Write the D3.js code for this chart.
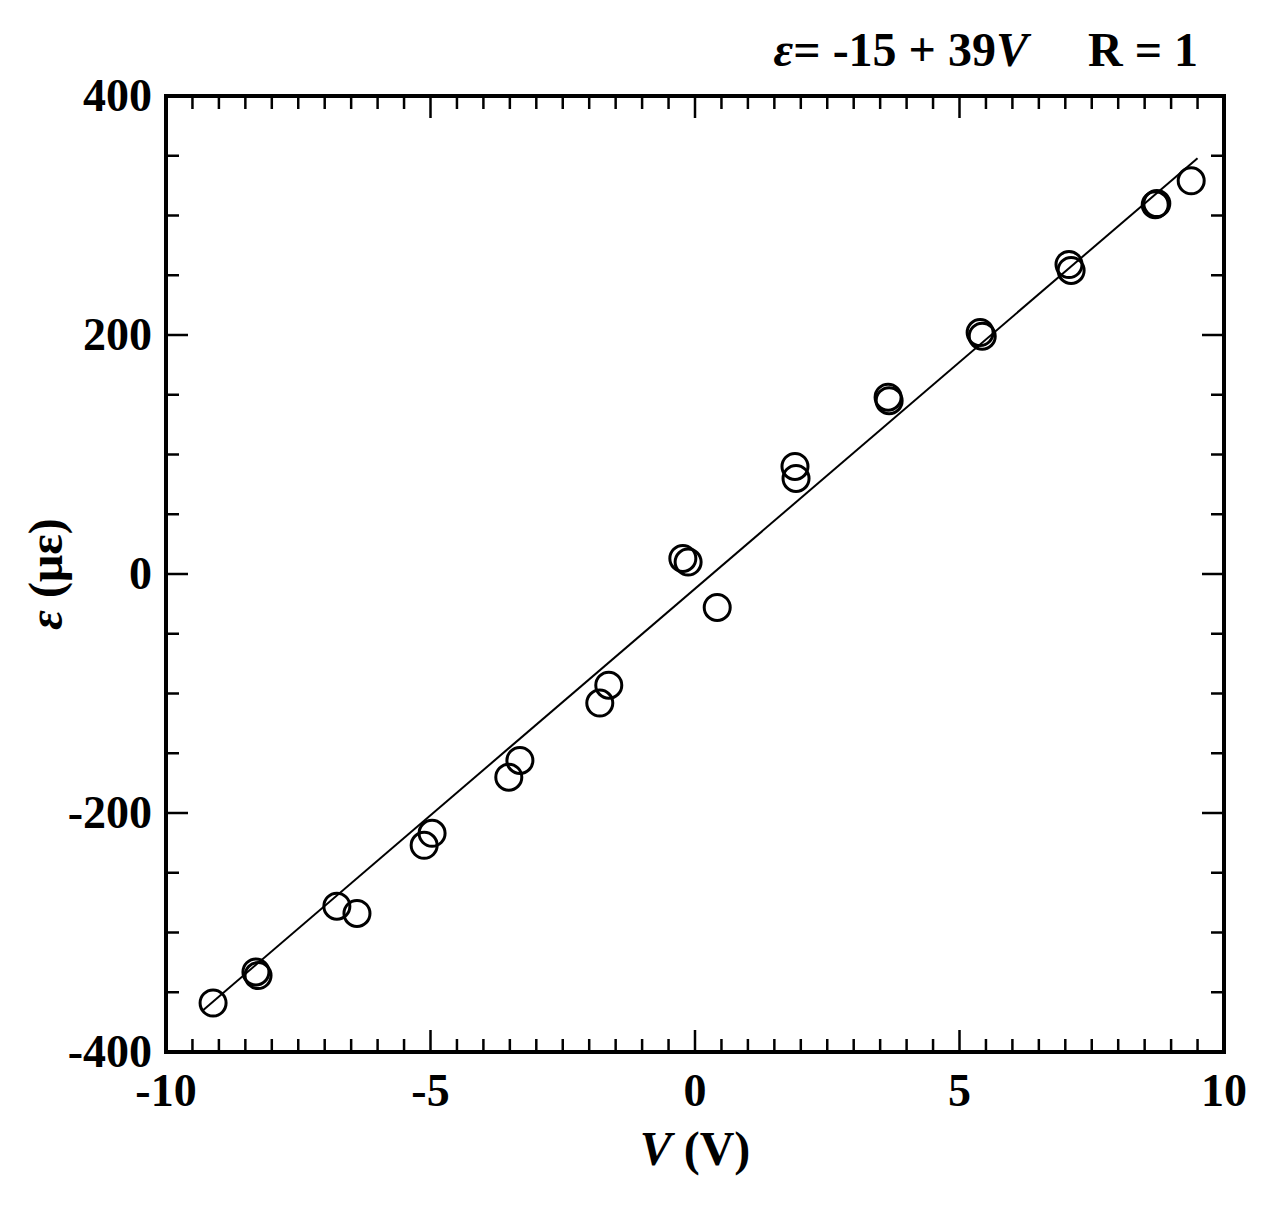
<!DOCTYPE html>
<html><head><meta charset="utf-8">
<script src="https://d3js.org/d3.v7.min.js"></script>
<style>body{margin:0;background:#fff}</style></head>
<body><svg id="c" width="1269" height="1213"></svg>
<script>
const voltage=[-9.11,-8.30,-8.26,-6.77,-6.39,-5.12,-4.97,-3.52,-3.31,-1.80,-1.63,-0.23,-0.13,0.42,1.89,1.91,3.65,3.67,5.39,5.43,7.07,7.11,8.70,8.73,9.38];
const strain=[-359,-333,-336,-278,-284,-227,-217,-170,-156,-108,-93,13,10,-28,90,80,148,145,202,199,259,254,309,310,329];
const fitV=[-9.3,9.5];
const fitE=[-365,348];
const xTicks=[-10,-5,0,5,10];
const yTicks=[-400,-200,0,200,400];

const svg=d3.select("#c");
const L=166,R=1224,T=96,B=1052;
const x=d3.scaleLinear().domain([-10,10]).range([L,R]);
const y=d3.scaleLinear().domain([-400,400]).range([B,T]);
const font="'Liberation Serif','Times New Roman',serif";

const minorX=d3.range(-10,10.01,0.5), minorY=d3.range(-400,400.1,50);
const tk=svg.append("g").attr("stroke","#000").attr("stroke-width",2.5);
minorX.forEach(v=>{const len=v%5===0?22:13;
 tk.append("line").attr("x1",x(v)).attr("x2",x(v)).attr("y1",B).attr("y2",B-len);
 tk.append("line").attr("x1",x(v)).attr("x2",x(v)).attr("y1",T).attr("y2",T+len);});
minorY.forEach(v=>{const len=v%200===0?22:13;
 tk.append("line").attr("y1",y(v)).attr("y2",y(v)).attr("x1",L).attr("x2",L+len);
 tk.append("line").attr("y1",y(v)).attr("y2",y(v)).attr("x1",R).attr("x2",R-len);});
svg.append("rect").attr("x",L).attr("y",T).attr("width",R-L).attr("height",B-T).attr("fill","none").attr("stroke","#000").attr("stroke-width",4);

svg.append("g").selectAll("text").data(xTicks).join("text").attr("x",d=>x(d)).attr("y",1106)
 .attr("text-anchor","middle").attr("font-family",font).attr("font-weight","bold").attr("font-size",46).text(d=>d);
svg.append("g").selectAll("text").data(yTicks).join("text").attr("x",152).attr("y",d=>y(d)+15)
 .attr("text-anchor","end").attr("font-family",font).attr("font-weight","bold").attr("font-size",46).text(d=>d);

svg.append("path").datum(fitV.map((v,i)=>[v,fitE[i]])).attr("fill","none").attr("stroke","#000").attr("stroke-width",2)
 .attr("d",d3.line().x(d=>x(d[0])).y(d=>y(d[1])));
svg.append("g").selectAll("circle").data(voltage.map((v,i)=>[v,strain[i]])).join("circle")
 .attr("cx",d=>x(d[0])).attr("cy",d=>y(d[1])).attr("r",13).attr("fill","none").attr("stroke","#000").attr("stroke-width",3);

const xl=svg.append("text").attr("x",695).attr("y",1165).attr("text-anchor","middle").attr("font-family",font).attr("font-weight","bold").attr("font-size",48);
xl.append("tspan").attr("font-style","italic").text("V");xl.append("tspan").text(" (V)");
const yl=svg.append("text").attr("transform","translate(62,574) rotate(-90)").attr("text-anchor","middle").attr("font-family",font).attr("font-weight","bold").attr("font-size",48);
yl.append("tspan").attr("font-style","italic").text("ε");yl.append("tspan").text(" (με)");
const tl=svg.append("text").attr("x",1198).attr("y",66).attr("text-anchor","end").attr("font-family",font).attr("font-weight","bold").attr("font-size",48);
tl.append("tspan").attr("font-style","italic").text("ε");
tl.append("tspan").text("= -15 + 39");
tl.append("tspan").attr("font-style","italic").text("V");
tl.append("tspan").attr("dx",60).text("R = 1");
</script></body></html>
